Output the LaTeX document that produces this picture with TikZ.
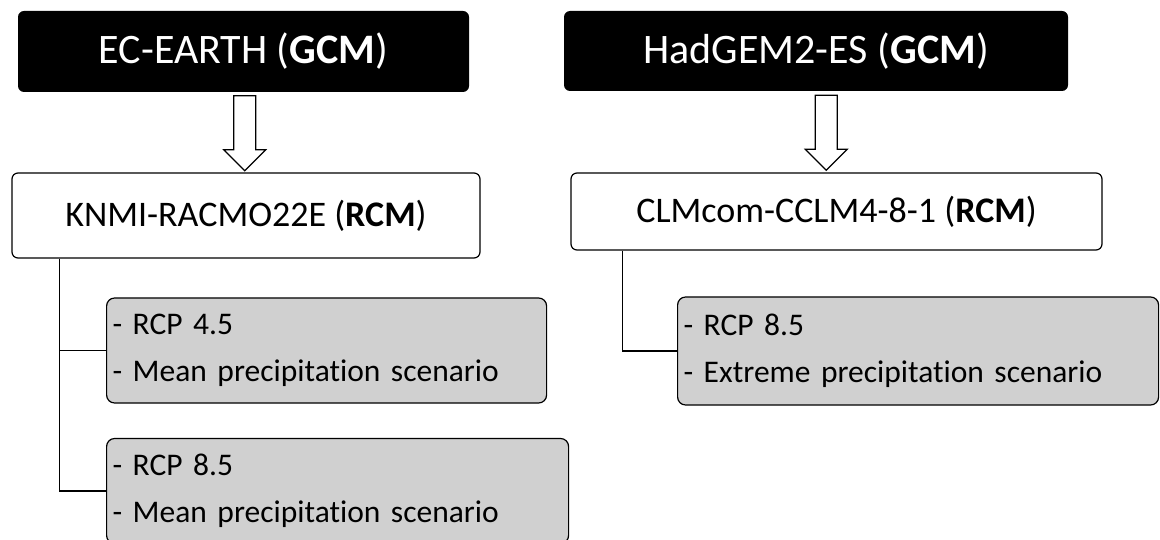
\documentclass[tikz,border=0pt]{standalone}
\usepackage{fontspec}
\setmainfont{Carlito}[Ligatures={NoCommon,NoRare,NoContextual}]
\usetikzlibrary{calc}
\definecolor{scengray}{RGB}{208,208,208}
\tikzstyle{gcm} = [rectangle, rounded corners=6pt, fill=black, text=white, text centered, font=\fontsize{42}{50}\selectfont]
\tikzstyle{rcm} = [rectangle, rounded corners=6pt, draw=black, line width=1.2pt, fill=white, text centered, font=\fontsize{36}{43}\selectfont]
\tikzstyle{scen} = [rectangle, rounded corners=8pt, draw=black, line width=1.2pt, fill=scengray, anchor=west, align=left, inner xsep=6pt, font=\fontsize{31.5}{47}\selectfont]
\tikzstyle{link} = [line width=1.5pt]
\tikzstyle{blockarrow} = [draw=black, line width=1.2pt, fill=white, line join=miter]

\begin{document}
\begin{tikzpicture}[x=1pt, y=-1pt]

    \useasboundingbox (0,0) rectangle (1160,540);

    \node (gcmA) [gcm, minimum width=451pt, minimum height=81pt] at (243.5,51.5) {EC-EARTH (\textbf{GCM})};
    \node (gcmB) [gcm, minimum width=504pt, minimum height=80pt] at (816,51) {HadGEM2-ES (\textbf{GCM})};
    \node (knmi) [rcm, minimum width=468pt, minimum height=85pt] at (246,215.5) {KNMI-RACMO22E (\textbf{RCM})};
    \node (clm) [rcm, minimum width=531pt, minimum height=77pt] at (836.5,211.5) {CLMcom-CCLM4-8-1 (\textbf{RCM})};

    \node (rcpA) [scen, text width=428pt, minimum height=105pt] at (106,350.5) {- RCP 4.5\\- Mean precipitation scenario};
    \node (rcpB) [scen, text width=450pt, minimum height=105pt] at (106,491) {- RCP 8.5\\- Mean precipitation scenario};
    \node (rcpC) [scen, text width=469pt, minimum height=108pt] at (677,351) {- RCP 8.5\\- Extreme precipitation scenario};

    % hollow arrows GCM -> RCM
    \coordinate (mA) at ($(gcmA.south)!0.5!(knmi.north)$);
    \coordinate (mB) at ($(gcmB.south)!0.5!(clm.north)$);
    \draw [blockarrow] ($(mA)+(-11,-36.5)$) -- ++(22,0) -- ++(0,54) -- ++(10,0) -- ($(mA)+(0,38.5)$) -- ($(mA)+(-21,17.5)$) -- ++(10,0) -- cycle;
    \draw [blockarrow] ($(mB)+(-11,-36.5)$) -- ++(22,0) -- ++(0,54) -- ++(10,0) -- ($(mB)+(0,38.5)$) -- ($(mB)+(-21,17.5)$) -- ++(10,0) -- cycle;

    \draw [link] ([xshift=48pt]knmi.south west) |- (rcpA.west);
    \draw [link] ([xshift=48pt]knmi.south west) |- (rcpB.west);
    \draw [link] ([xshift=52pt]clm.south west) |- (rcpC.west);

\end{tikzpicture}
\end{document}
